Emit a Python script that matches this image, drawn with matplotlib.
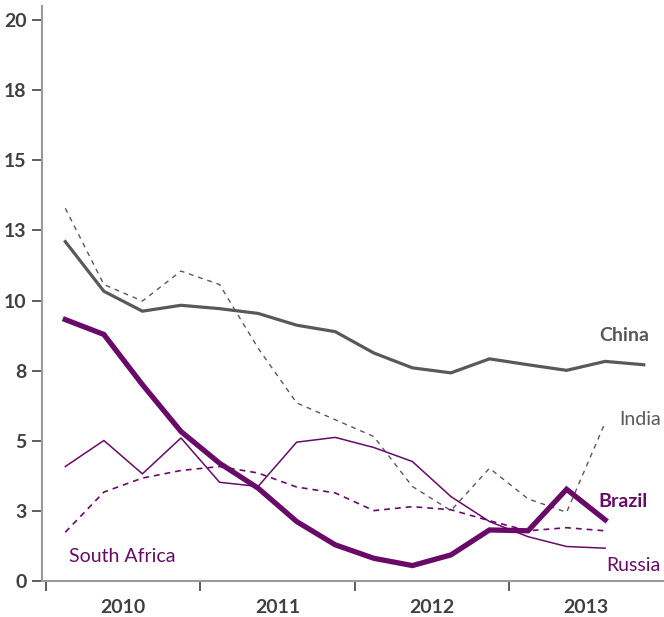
import numpy as np
import matplotlib
matplotlib.use("Agg")
import matplotlib.pyplot as plt

plt.rcParams['font.family'] = ['Lato', 'DejaVu Sans']

# ----- Quarterly series, 2010 Q1 onwards ----- #
years = ["2010", "2011", "2012", "2013"]
china = [12.1, 10.33, 9.62, 9.83, 9.71, 9.54, 9.12, 8.89, 8.13, 7.6, 7.42, 7.92, 7.71, 7.51, 7.83, 7.71]
india = [13.29, 10.57, 9.98, 11.05, 10.57, 8.3, 6.35, 5.75, 5.15, 3.37, 2.51, 4.02, 2.93, 2.45, 5.65]
brazil = [9.32, 8.79, 7.0, 5.33, 4.2, 3.31, 2.12, 1.29, 0.81, 0.55, 0.93, 1.82, 1.79, 3.27, 2.18]
russia = [4.08, 5.01, 3.82, 5.1, 3.52, 3.37, 4.95, 5.12, 4.76, 4.26, 3.01, 2.12, 1.58, 1.23, 1.17]
south_africa = [1.74, 3.17, 3.67, 3.94, 4.08, 3.85, 3.35, 3.14, 2.51, 2.65, 2.54, 2.15, 1.79, 1.9, 1.79]

y_ticks = [0, 2.5, 5, 7.5, 10, 12.5, 15, 17.5, 20]
y_tick_labels = ["0", "3", "5", "8", "10", "13", "15", "18", "20"]

purple = "#690a69"
grey = "#595959"
axis_grey = "#9a9a9a"
text_grey = "#404040"
fs = 14

# ----- Figure ----- #
fig = plt.figure(figsize=(6.64, 6.17), dpi=100)
ax = fig.add_axes([42 / 664, 36 / 617, 621 / 664, 575 / 617])

ax.plot(np.arange(len(china)), china, color=grey, lw=2.3, solid_joinstyle='miter')
ax.plot(np.arange(len(india)), india, color=grey, lw=1.0, dashes=(3.5, 3.5))
ax.plot(np.arange(len(russia)), russia, color=purple, lw=1.1)
ax.plot(np.arange(len(south_africa)), south_africa, color=purple, lw=1.2, dashes=(3.5, 3))
ax.plot(np.arange(len(brazil)), brazil, color=purple, lw=3.8, solid_joinstyle='miter')

ax.set_xlim(-0.604, 15.5)
ax.set_ylim(0, 20.5)

for s in ['top', 'right']:
    ax.spines[s].set_visible(False)
for s in ['left', 'bottom']:
    ax.spines[s].set_color(axis_grey)
    ax.spines[s].set_linewidth(1.5)

ax.set_yticks(y_ticks)
ax.set_yticklabels(y_tick_labels)
ax.tick_params(axis='y', direction='out', length=7, width=1.3, color='#505050',
               labelsize=fs, labelcolor=text_grey, pad=4)
for lbl in ax.get_yticklabels():
    lbl.set_fontweight('bold')

# year boundaries as major ticks, year names centred between them
ax.set_xticks([-0.5, 3.5, 7.5, 11.5])
ax.set_xticklabels([])
ax.set_xticks([1.5, 5.5, 9.5, 13.5], minor=True)
ax.set_xticklabels(years, minor=True)
ax.tick_params(axis='x', which='major', direction='out', length=7, width=1.3, color='#505050')
ax.tick_params(axis='x', which='minor', length=0, labelsize=fs, labelcolor=text_grey, pad=13)
for lbl in ax.get_xticklabels(minor=True):
    lbl.set_fontweight('bold')

# series labels
ax.text(14.5, 8.75, "China", color=grey, fontsize=fs, fontweight='bold', ha='center', va='center')
ax.text(14.91, 5.75, "India", color=grey, fontsize=fs, ha='center', va='center')
ax.text(14.47, 2.82, "Brazil", color=purple, fontsize=fs, fontweight='bold', ha='center', va='center')
ax.text(14.73, 0.57, "Russia", color=purple, fontsize=fs, ha='center', va='center')
ax.text(1.47, 0.89, "South Africa", color=purple, fontsize=fs, ha='center', va='center')

plt.savefig("out.png", dpi=100)
